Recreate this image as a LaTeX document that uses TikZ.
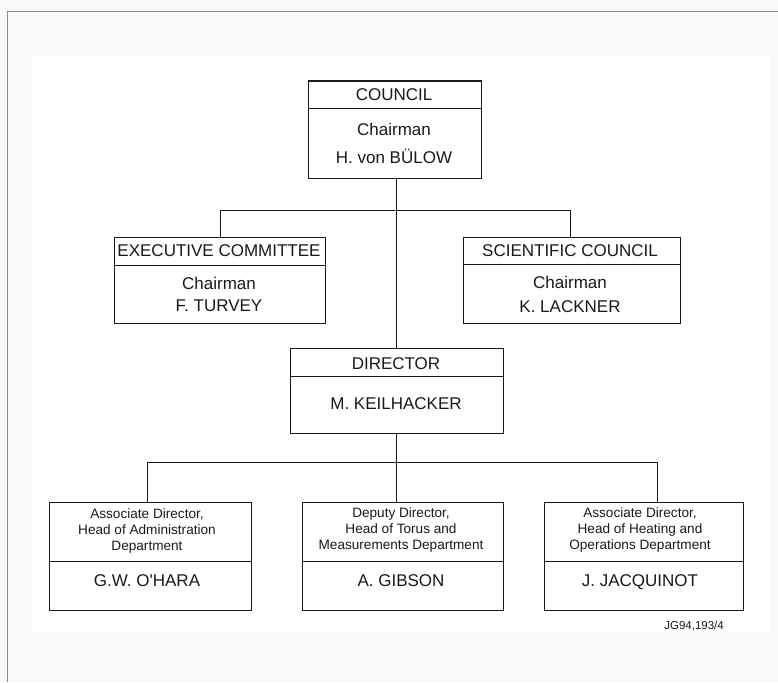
\documentclass[tikz,border=0pt]{standalone}
\usepackage{fontspec}
\setmainfont{Liberation Sans}
\definecolor{ink}{HTML}{1A1A1A}
\definecolor{framegray}{HTML}{8C8C8C}
\definecolor{paper}{HTML}{FAFAFA}
\begin{document}
\begin{tikzpicture}[x=1pt,y=-1pt,
  orgbox/.style={draw=ink, line width=1.4pt, inner sep=0pt, anchor=north west},
  divider/.style={draw=ink, line width=1pt},
  link/.style={draw=ink, line width=1.3pt},
  bigtext/.style={font=\fontsize{17}{19}\selectfont, text=ink, inner sep=0pt,
                  text height=12.2pt, text depth=0pt},
  smalltext/.style={font=\fontsize{13.6}{16}\selectfont, text=ink, inner sep=0pt,
                    align=center, anchor=north},
  reftext/.style={font=\fontsize{11.5}{13}\selectfont, text=ink, inner sep=0pt, anchor=east}
]
% page and outer frame
\fill[paper] (0,0) rectangle (778,682);
\fill[white] (32,55) rectangle (770,632);
\useasboundingbox (0,0) rectangle (778,682);
\draw[framegray, line width=1.5pt] (778,11.5) -- (7.5,11.5) -- (7.5,682);

% boxes
\node[orgbox, minimum width=173pt, minimum height=97pt] (council) at (307.5,80.5) {};
\node[orgbox, minimum width=211pt, minimum height=86pt] (exec) at (113.5,236.5) {};
\node[orgbox, minimum width=217pt, minimum height=86pt] (sci) at (462.5,236.5) {};
\node[orgbox, minimum width=213pt, minimum height=85pt] (director) at (289.5,347.5) {};
\node[orgbox, minimum width=202pt, minimum height=108pt] (admin) at (48.5,501.5) {};
\node[orgbox, minimum width=201pt, minimum height=108pt] (torus) at (301.5,501.5) {};
\node[orgbox, minimum width=199pt, minimum height=108pt] (heating) at (543.5,501.5) {};

% header dividers
\draw[divider] (council.west |- 0,108.5) -- (council.east |- 0,108.5);
\draw[divider] (exec.west |- 0,265.5) -- (exec.east |- 0,265.5);
\draw[divider] (sci.west |- 0,264.5) -- (sci.east |- 0,264.5);
\draw[divider] (director.west |- 0,376.5) -- (director.east |- 0,376.5);
\draw[divider] (admin.west |- 0,561.5) -- (admin.east |- 0,561.5);
\draw[divider] (torus.west |- 0,561.5) -- (torus.east |- 0,561.5);
\draw[divider] (heating.west |- 0,561.5) -- (heating.east |- 0,561.5);

% connector junctions
\coordinate (execdrop) at (220.5,210.5);
\coordinate (scidrop) at (570.5,210.5);
\coordinate (lowbus) at (396.5,462.5);
\coordinate (admindrop) at (147.5,462.5);
\coordinate (torusdrop) at (396.5,462.5);
\coordinate (heatingdrop) at (657.5,462.5);

% connectors
\draw[link] (council.south -| lowbus) -- (director.north -| lowbus);
\draw[link] (execdrop |- exec.north) -- (execdrop) -- (scidrop) -- (scidrop |- sci.north);
\draw[link] (director.south -| lowbus) -- (lowbus);
\draw[link] (admindrop |- admin.north) -- (admindrop) -- (heatingdrop) -- (heatingdrop |- heating.north);
\draw[link] (torusdrop) -- (torusdrop |- torus.north);

% council
\node[bigtext] (councilhead) at (394,94) {COUNCIL};
\node[bigtext] (councilrole) at (394,129) {Chairman};
\node[bigtext] (councilname) at (394,157) {H. von BÜLOW};

% executive committee
\node[bigtext] (exechead) at (219,250) {EXECUTIVE COMMITTEE};
\node[bigtext] (execrole) at (219,283) {Chairman};
\node[bigtext] (execname) at (219,305) {F. TURVEY};

% scientific council
\node[bigtext] (scihead) at (570,250) {SCIENTIFIC COUNCIL};
\node[bigtext] (scirole) at (570,282) {Chairman};
\node[bigtext] (sciname) at (570,306) {K. LACKNER};

% director
\node[bigtext] (dirhead) at (396,363) {DIRECTOR};
\node[bigtext] (dirname) at (396,403) {M. KEILHACKER};

% departments
\node[smalltext] (adminrole) at (147,508) {Associate Director,\\Head of Administration\\Department};
\node[bigtext] (adminname) at (147,580) {G.W. O\textquotesingle HARA};
\node[smalltext] (torusrole) at (401,507) {Deputy Director,\\Head of Torus and\\Measurements Department};
\node[bigtext] (torusname) at (401,580) {A. GIBSON};
\node[smalltext] (heatingrole) at (640,507) {Associate Director,\\Head of Heating and\\Operations Department};
\node[bigtext] (heatingname) at (640,580) {J. JACQUINOT};

% drawing reference
\node[reftext] (drawingref) at (724,626) {JG94,193/4};
\end{tikzpicture}
\end{document}
